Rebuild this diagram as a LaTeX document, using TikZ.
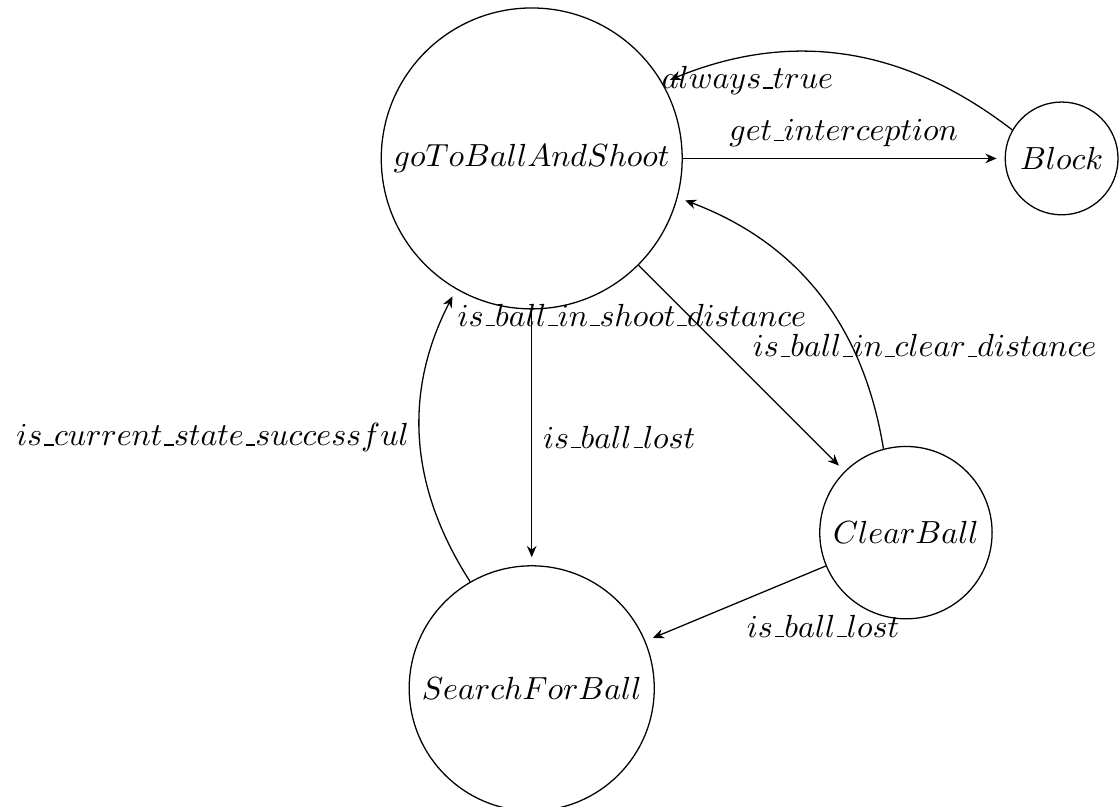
\documentclass[tikz,border=0pt]{standalone}
\usepackage{tikz}
\usetikzlibrary{positioning,arrows.meta}
\newcommand{\usc}{\mbox{\kern.06em\vbox{\hrule width.3em}}}
\tikzset{
  node-state/.style={draw,circle,align=center},
  arrow/.style={-{Stealth[length=3.5pt,width=3pt]},shorten >=2.5pt},
}

\begin{document}
\begin{tikzpicture}
  \useasboundingbox (-5.84,1.74) rectangle (6.45,-7.12);
  \node[node-state] (goto) at (0,0) {$goToBallAndShoot$};
  \node[node-state] (block) at (5.82,0) {$Block$};
  \node[node-state] (clear) at (4.11,-4.11) {$ClearBall$};
  \node[node-state] (search) at (0,-5.82) {$SearchForBall$};

  \draw[arrow] (goto) -- node[above] {$get\usc interception$} (block);
  \draw[arrow] (block) to[bend right=30] node[below left] {$always\usc true$} (goto);
  \draw[arrow] (goto) -- node[above right] {$is\usc ball\usc in\usc clear\usc distance$} (clear);
  \draw[arrow] (clear) to[bend right=30] node[below left] {$is\usc ball\usc in\usc shoot\usc distance$} (goto);
  \draw[arrow] (goto) -- node[right] {$is\usc ball\usc lost$} (search);
  \draw[arrow] (search) to[bend left=30] node[left] {$is\usc current\usc state\usc successful$} (goto);
  \draw[arrow] (clear) -- node[below right] {$is\usc ball\usc lost$} (search);
\end{tikzpicture}
\end{document}
